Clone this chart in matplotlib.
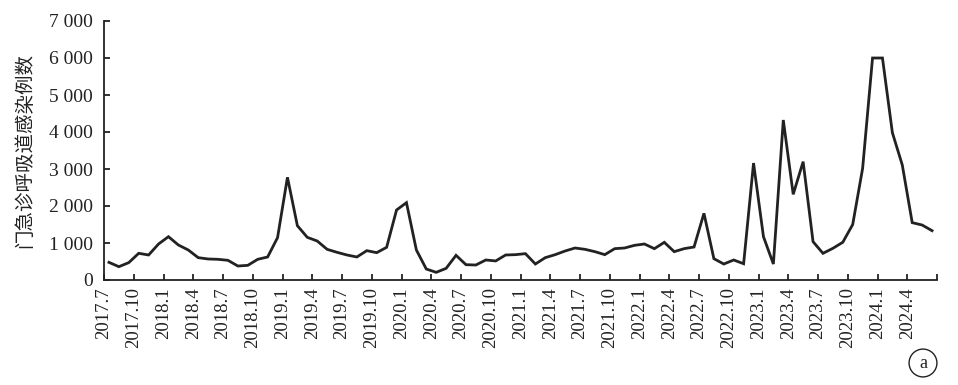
import numpy as np
import matplotlib
matplotlib.use("Agg")
import matplotlib.pyplot as plt

# monthly counts, 2017.7 .. 2024.6
cases = [
    477, 360, 470, 721, 676, 973, 1171, 946, 811, 604, 568, 559, 532, 378,
    396, 559, 622, 1144, 2775, 1468, 1153, 1054, 829, 748, 676, 622, 793,
    739, 883, 1892, 2090, 811, 297, 207, 315, 667, 414, 405, 541, 515,
    676, 685, 712, 432, 604, 685, 784, 865, 829, 766, 685, 847, 865,
    937, 973, 847, 1018, 766, 847, 892, 1802, 577, 432, 541, 440, 3160,
    1171, 432, 4324, 2315, 3198, 1036, 721, 856, 1020, 1500, 3018, 6000,
    6000, 3982, 3108, 1550, 1486, 1333,
]
tick_labels = [
    "2017.7", "2017.10", "2018.1", "2018.4", "2018.7", "2018.10",
    "2019.1", "2019.4", "2019.7", "2019.10", "2020.1", "2020.4",
    "2020.7", "2020.10", "2021.1", "2021.4", "2021.7", "2021.10",
    "2022.1", "2022.4", "2022.7", "2022.10", "2023.1", "2023.4",
    "2023.7", "2023.10", "2024.1", "2024.4",
]
y_ticks = [0, 1000, 2000, 3000, 4000, 5000, 6000, 7000]
y_tick_labels = ["0", "1 000", "2 000", "3 000", "4 000", "5 000", "6 000", "7 000"]
ylabel = "门急诊呼吸道感染例数"

serif = ["Liberation Serif", "DejaVu Serif"]

fig = plt.figure(figsize=(9.58, 3.85), dpi=100)
ax = fig.add_axes([104 / 958, 105 / 385, 833 / 958, 259 / 385])

n = len(cases)
x = np.arange(n) + 0.5
ax.plot(x, cases, color="#222222", lw=2.0, solid_joinstyle="miter")

ax.set_xlim(0, n)
ax.set_ylim(0, 7000)

ax.set_xticks(np.arange(0, n + 1, 3))
ax.set_xticklabels(tick_labels + [""], rotation=90, family=serif, fontsize=13.5,
                   va="top", ha="center")
ax.set_yticks(y_ticks)
ax.set_yticklabels(y_tick_labels, family=serif, fontsize=14)

ax.tick_params(axis="both", direction="in", length=4.5, width=1.3, color="#222222",
               labelcolor="#222222")
ax.tick_params(axis="x", pad=5)
ax.tick_params(axis="y", pad=8)

for s in ["top", "right"]:
    ax.spines[s].set_visible(False)
for s in ["left", "bottom"]:
    ax.spines[s].set_linewidth(1.3)
    ax.spines[s].set_color("#222222")

ax.set_ylabel(ylabel, family=["Noto Sans CJK SC", "DejaVu Sans"], fontsize=14,
              color="#222222", labelpad=10)

fig.text(923 / 958, 1 - 363 / 385, "a", family=serif, fontsize=13,
         ha="center", va="center", color="#222222",
         bbox=dict(boxstyle="circle,pad=0.3", fc="white", ec="#222222", lw=1.0))

fig.savefig("out.png", dpi=100)
